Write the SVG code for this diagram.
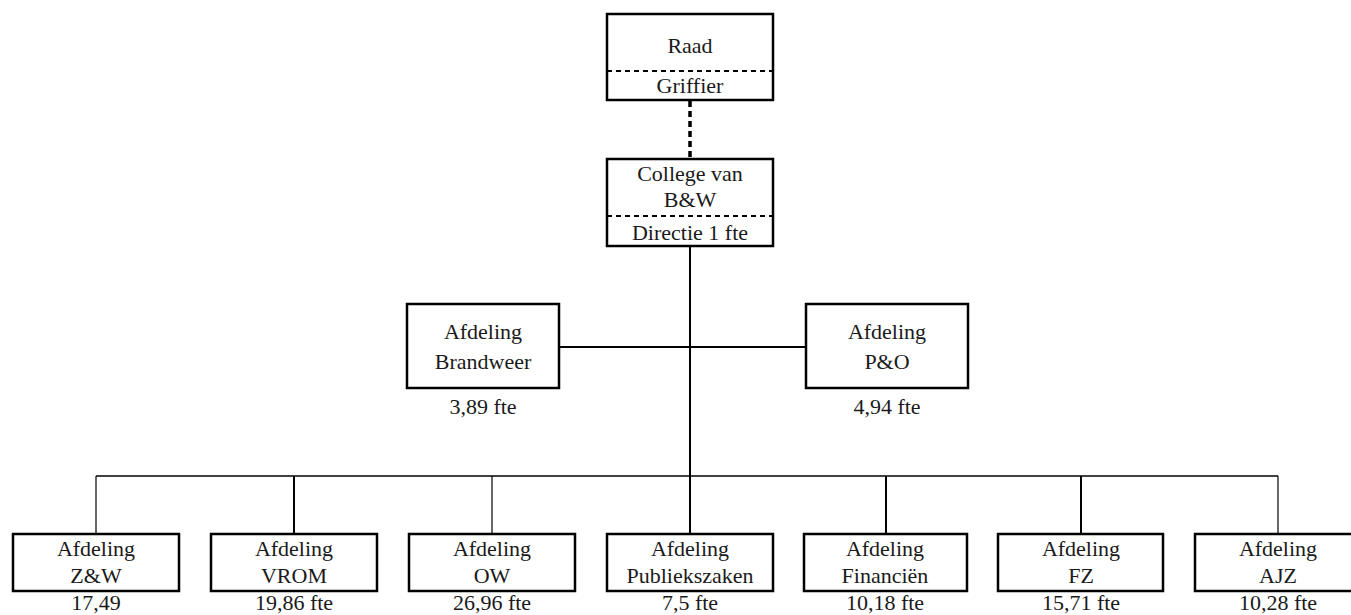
<svg xmlns="http://www.w3.org/2000/svg" width="1351" height="615" viewBox="0 0 1351 615">
<style>
.box{fill:#fff;stroke:#000;stroke-width:2.5}
.div{stroke:#000;stroke-width:2;stroke-dasharray:5,4}
.t{font-family:'Liberation Serif','Times New Roman',serif;font-size:22px;fill:#1a1a1a;text-anchor:middle}
.c{stroke:#000;fill:none}
</style>
<rect width="1351" height="615" fill="#fff"/>
<g id="connectors">
<line class="c" x1="690" y1="101" x2="690" y2="158" stroke-width="3.5" stroke-dasharray="6,4"/>
<line class="c" x1="690" y1="246" x2="690" y2="534" stroke-width="2"/>
<line class="c" x1="559" y1="347" x2="806" y2="347" stroke-width="2"/>
<line class="c" x1="96" y1="476" x2="1278" y2="476" stroke-width="1.5"/>
<line class="c" x1="96" y1="476" x2="96" y2="534" stroke-width="1.2"/>
<line class="c" x1="294" y1="476" x2="294" y2="534" stroke-width="2"/>
<line class="c" x1="492" y1="476" x2="492" y2="534" stroke-width="1.2"/>
<line class="c" x1="886" y1="476" x2="886" y2="534" stroke-width="2"/>
<line class="c" x1="1081" y1="476" x2="1081" y2="534" stroke-width="2"/>
<line class="c" x1="1278" y1="476" x2="1278" y2="534" stroke-width="1.2"/>
</g>
<g id="raad">
<rect class="box" x="607" y="14" width="166" height="86"/>
<line class="div" x1="607" y1="71" x2="773" y2="71"/>
<text class="t" x="690" y="53">Raad</text>
<text class="t" x="690" y="93">Griffier</text>
</g>
<g id="college">
<rect class="box" x="607" y="159" width="166" height="87"/>
<line class="div" x1="607" y1="216" x2="773" y2="216"/>
<text class="t" x="690" y="181" font-size="21">College van</text>
<text class="t" x="690" y="207" font-size="21">B&amp;W</text>
<text class="t" x="690" y="240">Directie 1 fte</text>
</g>
<g id="brandweer">
<rect class="box" x="407" y="304" width="152" height="84"/>
<text class="t" x="483" y="339">Afdeling</text>
<text class="t" x="483" y="369">Brandweer</text>
<text class="t" x="483" y="414">3,89 fte</text>
</g>
<g id="po">
<rect class="box" x="806" y="304" width="162" height="84"/>
<text class="t" x="887" y="339">Afdeling</text>
<text class="t" x="887" y="369">P&amp;O</text>
<text class="t" x="887" y="414">4,94 fte</text>
</g>
<g id="zw">
<rect class="box" x="13" y="534" width="166" height="57"/>
<text class="t" x="96" y="556">Afdeling</text>
<text class="t" x="96" y="583">Z&amp;W</text>
<text class="t" x="96" y="610">17,49</text>
</g>
<g id="vrom">
<rect class="box" x="211" y="534" width="166" height="57"/>
<text class="t" x="294" y="556">Afdeling</text>
<text class="t" x="294" y="583">VROM</text>
<text class="t" x="294" y="610">19,86 fte</text>
</g>
<g id="ow">
<rect class="box" x="409" y="534" width="166" height="57"/>
<text class="t" x="492" y="556">Afdeling</text>
<text class="t" x="492" y="583">OW</text>
<text class="t" x="492" y="610">26,96 fte</text>
</g>
<g id="publiekszaken">
<rect class="box" x="607" y="534" width="166" height="57"/>
<text class="t" x="690" y="556">Afdeling</text>
<text class="t" x="690" y="583">Publiekszaken</text>
<text class="t" x="690" y="610">7,5 fte</text>
</g>
<g id="financien">
<rect class="box" x="804" y="534" width="163" height="57"/>
<text class="t" x="885" y="556">Afdeling</text>
<text class="t" x="885" y="583">Financiën</text>
<text class="t" x="885" y="610">10,18 fte</text>
</g>
<g id="fz">
<rect class="box" x="998" y="534" width="165" height="57"/>
<text class="t" x="1081" y="556">Afdeling</text>
<text class="t" x="1081" y="583">FZ</text>
<text class="t" x="1081" y="610">15,71 fte</text>
</g>
<g id="ajz">
<rect class="box" x="1195" y="534" width="166" height="57"/>
<text class="t" x="1278" y="556">Afdeling</text>
<text class="t" x="1278" y="583">AJZ</text>
<text class="t" x="1278" y="610">10,28 fte</text>
</g>
</svg>
